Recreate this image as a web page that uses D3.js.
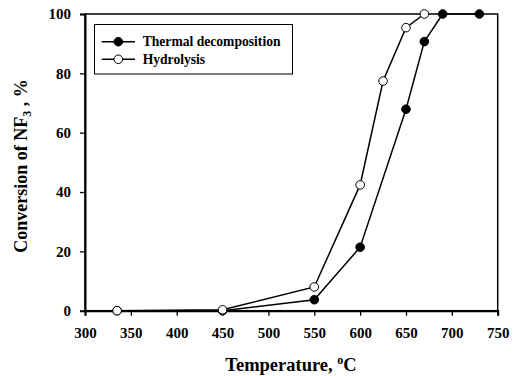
<!DOCTYPE html>
<html><head><meta charset="utf-8">
<script src="https://cdn.jsdelivr.net/npm/d3@7"></script>
<style>body{margin:0;background:#fff}svg{display:block}text{font-family:"Liberation Serif","Times New Roman",Times,serif !important;font-weight:bold}</style>
</head><body>
<svg id="c" width="518" height="376"></svg>
<script>
const thermalX = [335, 450, 550, 600, 650, 670, 690, 730];
const thermalY = [0, 0, 3.7, 21.4, 67.9, 90.7, 100, 100];
const hydroX = [335, 450, 550, 600, 625, 650, 670];
const hydroY = [0, 0.3, 8.0, 42.4, 77.4, 95.4, 100];
const xTicks = [300, 350, 400, 450, 500, 550, 600, 650, 700, 750];
const yTicks = [0, 20, 40, 60, 80, 100];
const seriesNames = ["Thermal decomposition", "Hydrolysis"];

const svg = d3.select("#c");
const L = 85, R = 497.7, T = 14, B = 310.7;
const x = d3.scaleLinear().domain([300, 750]).range([L, R]);
const y = d3.scaleLinear().domain([0, 100]).range([B, T]);

svg.append("rect").attr("x", L).attr("y", T).attr("width", R - L).attr("height", B - T)
  .attr("fill", "none").attr("stroke", "#000").attr("stroke-width", 1.5);

const xa = svg.append("g").attr("transform", `translate(0,${B})`)
  .call(d3.axisBottom(x).tickValues(xTicks).tickSize(5).tickPadding(12).tickFormat(d3.format("d")));
const ya = svg.append("g").attr("transform", `translate(${L},0)`)
  .call(d3.axisLeft(y).tickValues(yTicks).tickSize(5).tickPadding(9).tickFormat(d3.format("d")));
[xa, ya].forEach(a => {
  a.attr("font-family", null).attr("font-size", null);
  a.select(".domain").attr("stroke-width", 2);
  a.selectAll(".tick line").attr("stroke-width", 1.3);
  a.selectAll("text").attr("font-size", 15).attr("fill", "#000");
});

const line = d3.line().x(d => x(d[0])).y(d => y(d[1]));
const tData = thermalX.map((v, i) => [v, thermalY[i]]);
const hData = hydroX.map((v, i) => [v, hydroY[i]]);

svg.append("path").attr("d", line(tData)).attr("fill", "none").attr("stroke", "#000").attr("stroke-width", 1.5);
svg.append("path").attr("d", line(hData)).attr("fill", "none").attr("stroke", "#000").attr("stroke-width", 1.5);
svg.selectAll(".tp").data(tData).enter().append("circle")
  .attr("cx", d => x(d[0])).attr("cy", d => y(d[1])).attr("r", 4.3)
  .attr("fill", "#000").attr("stroke", "#000").attr("stroke-width", 1);
svg.selectAll(".hp").data(hData).enter().append("circle")
  .attr("cx", d => x(d[0])).attr("cy", d => y(d[1])).attr("r", 4.3)
  .attr("fill", "#fff").attr("stroke", "#000").attr("stroke-width", 1);

const lg = svg.append("g");
lg.append("rect").attr("x", 94.5).attr("y", 24.5).attr("width", 198).attr("height", 49.5)
  .attr("fill", "#fff").attr("stroke", "#000").attr("stroke-width", 1);
seriesNames.forEach((n, i) => {
  const yy = 41.7 + i * 17.6;
  lg.append("line").attr("x1", 101.7).attr("x2", 135).attr("y1", yy).attr("y2", yy).attr("stroke", "#000").attr("stroke-width", 1.5);
  lg.append("circle").attr("cx", 118.3).attr("cy", yy).attr("r", 4.3)
    .attr("fill", i === 0 ? "#000" : "#fff").attr("stroke", "#000").attr("stroke-width", 1);
  lg.append("text").attr("x", 142.7).attr("y", yy + 4.7).attr("font-size", 13.6).text(n);
});

const xt = svg.append("text").attr("x", 291).attr("y", 371).attr("text-anchor", "middle").attr("font-size", 18.5);
xt.append("tspan").text("Temperature, ");
xt.append("tspan").attr("font-size", 12).attr("dy", -7).text("o");
xt.append("tspan").attr("dy", 7).text("C");

const yt = svg.append("text").attr("transform", "translate(27,166) rotate(-90)").attr("text-anchor", "middle").attr("font-size", 18);
yt.append("tspan").text("Conversion of NF");
yt.append("tspan").attr("font-size", 12).attr("dy", 4).text("3");
yt.append("tspan").attr("dy", -4).text(" , %");
</script>
</body></html>
